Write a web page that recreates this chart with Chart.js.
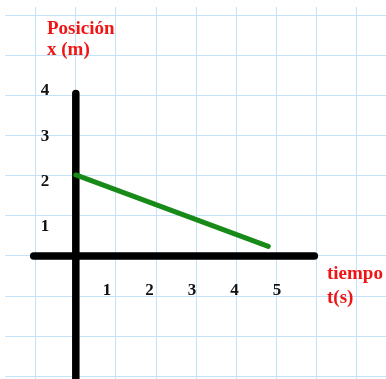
<!DOCTYPE html>
<html>
<head>
<meta charset="utf-8">
<script src="https://cdn.jsdelivr.net/npm/chart.js@4/dist/chart.umd.min.js"></script>
<style>
  html, body { margin: 0; padding: 0; background: #fff; }
  canvas { display: block; }
</style>
</head>
<body>
<canvas id="chart" width="386" height="379"></canvas>
<script>
// position vs time: straight line from x=2 m at t=0 down toward the axis
const times = [0, 4.8];
const positions = [2.02, 0.24];

// the two thick coordinate axes
const vAxisT = [0, 0];
const vAxisX = [4.05, -3.3];
const hAxisT = [-1.05, 5.95];
const hAxisX = [0, 0];

const xTickLabels = [1, 2, 3, 4, 5];
const yTickLabels = [1, 2, 3, 4];

const toPoints = (xs, ys) => xs.map((v, i) => ({ x: v, y: ys[i] }));

const labelsPlugin = {
    id: 'labels',
    afterDatasetsDraw(chart) {
        const ctx = chart.ctx;
        const xl = chart.scales.xl;
        const yl = chart.scales.yl;
        ctx.save();
        ctx.font = 'bold 17px "Liberation Serif", "Times New Roman", serif';
        ctx.fillStyle = '#111';
        ctx.textAlign = 'center';
        ctx.textBaseline = 'middle';
        xTickLabels.forEach((v) => {
            ctx.fillText(String(v), xl.getPixelForValue(v), yl.getPixelForValue(-0.4));
        });
        yTickLabels.forEach((v) => {
            ctx.fillText(String(v), xl.getPixelForValue(-0.46), yl.getPixelForValue(v));
        });

        // axis titles in red
        ctx.font = 'bold 19px "Liberation Serif", "Times New Roman", serif';
        ctx.fillStyle = '#f01515';
        ctx.textAlign = 'left';
        ctx.textBaseline = 'alphabetic';
        ctx.fillText('Posición', 47, 34);
        ctx.fillText('x (m)', 47, 55);
        ctx.fillText('tiempo', 327, 279);
        ctx.fillText('t(s)', 327, 303);
        ctx.restore();
    }
};

const gridScale = {
    type: 'linear',
    ticks: { display: false, stepSize: 1, includeBounds: false },
    grid: { color: '#c4e3f8', lineWidth: 1, drawTicks: false },
    border: { display: false }
};

new Chart(document.getElementById('chart').getContext('2d'), {
    type: 'scatter',
    data: {
        datasets: [
            {
                data: toPoints(times, positions),
                showLine: true,
                borderColor: '#188a18',
                borderWidth: 5,
                borderCapStyle: 'round',
                pointRadius: 0
            },
            {
                data: toPoints(vAxisT, vAxisX),
                showLine: true,
                borderColor: '#000',
                borderWidth: 7.5,
                borderCapStyle: 'round',
                pointRadius: 0
            },
            {
                data: toPoints(hAxisT, hAxisX),
                showLine: true,
                borderColor: '#000',
                borderWidth: 7.5,
                borderCapStyle: 'round',
                pointRadius: 0
            }
        ]
    },
    options: {
        responsive: false,
        animation: false,
        layout: { padding: { left: 5, top: 7, right: 0, bottom: 0 } },
        plugins: { legend: { display: false }, tooltip: { enabled: false } },
        scales: {
            x: { ...gridScale, position: 'bottom', min: -1.766, max: 7.736 },
            y: { ...gridScale, position: 'left', min: -3.07, max: 6.21 },
            xl: { type: 'linear', display: false, position: 'bottom', axis: 'x', min: -1.4, max: 7.565 },
            yl: { type: 'linear', display: false, position: 'left', axis: 'y', min: -2.36, max: 5.85 }
        }
    },
    plugins: [labelsPlugin]
});
</script>
</body>
</html>
